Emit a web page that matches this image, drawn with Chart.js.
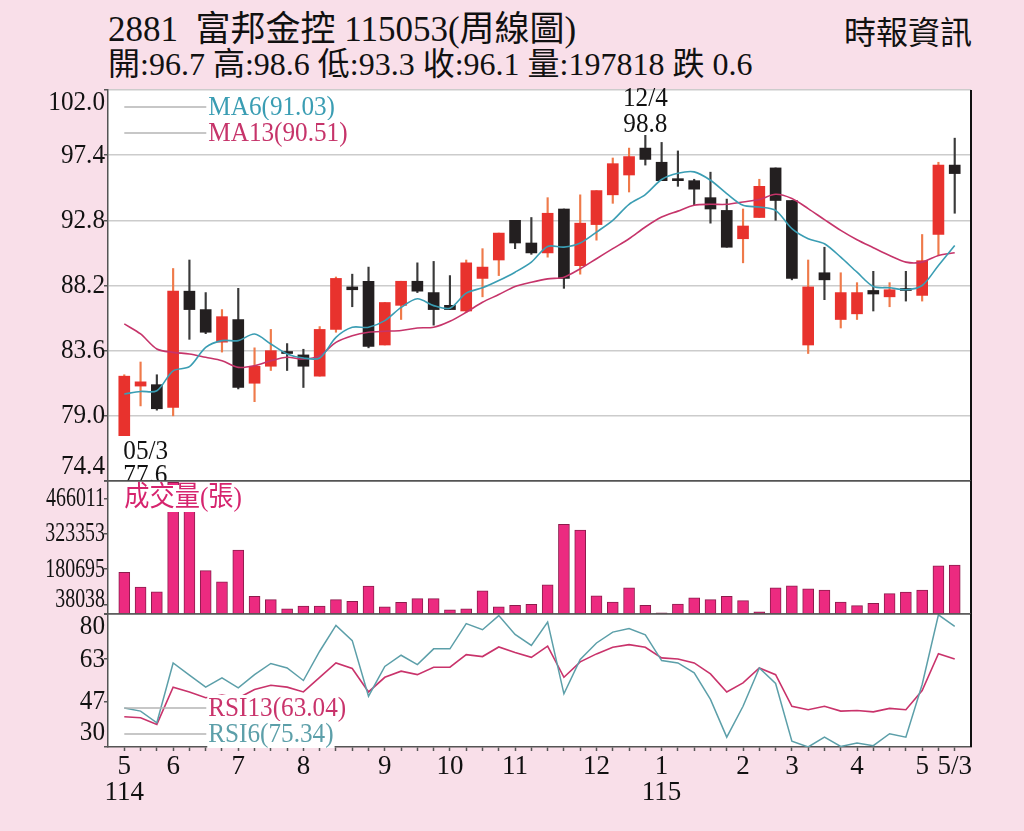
<!DOCTYPE html>
<html lang="zh-Hant">
<head>
<meta charset="utf-8">
<title>2881 富邦金控 周線圖</title>
<script src="https://cdn.jsdelivr.net/npm/chart.js"></script>
<style>
  html, body { margin: 0; padding: 0; background: #f9dfe9; }
  #wrap { position: relative; width: 1024px; height: 831px; background: #f9dfe9; overflow: hidden;
          font-family: "Liberation Serif", "Noto Sans CJK TC", serif; color: #111; }
  #wrap canvas { position: absolute; left: 0; top: 0; }
  .hd { position: absolute; line-height: 1; white-space: pre; }
  #title { left: 108px; top: 12px; font-size: 35px; }
  #quote { left: 108px; top: 48px; font-size: 32px; }
  #source { right: 52px; top: 17px; font-size: 32px; }
</style>
</head>
<body>
<div id="wrap">
  <div class="hd" id="title"></div>
  <div class="hd" id="quote"></div>
  <div class="hd" id="source"></div>
  <canvas id="priceChart" width="1024" height="831"></canvas>
  <canvas id="volChart" width="1024" height="831"></canvas>
  <canvas id="rsiChart" width="1024" height="831"></canvas>
</div>
<script>
const stockCode = "2881";
const stockName = "富邦金控";
const weekCode = "115053";
const sourceName = "時報資訊";

// weekly candles, 114/05 week 3 .. 115/05 week 3
const opens  = [77.6, 81.1, 81.2, 79.6, 87.8, 86.5, 84.2, 85.8, 81.3, 82.5,
                83.45, 83.3, 81.8, 85.1, 88.1, 88.5, 84.0, 86.8, 88.5, 87.7,
                86.8, 86.4, 88.7, 90.0, 92.8, 91.2, 90.5, 93.6, 89.6, 92.5,
                94.6, 96.0, 97.9, 96.9, 95.7, 95.6, 94.4, 93.5, 91.5, 93.0,
                96.5, 94.2, 84.0, 89.1, 85.8, 86.2, 87.85, 87.4, 87.9, 87.5,
                91.8, 96.7];
const highs  = [81.9, 82.8, 81.9, 89.4, 90.0, 87.7, 86.5, 88.0, 83.8, 85.1,
                84.1, 83.7, 85.3, 88.8, 89.0, 89.5, 87.0, 88.5, 89.8, 89.9,
                88.9, 90.0, 90.8, 91.9, 92.8, 93.0, 94.4, 93.6, 94.6, 94.9,
                97.2, 97.9, 98.8, 98.3, 97.7, 95.7, 96.2, 94.3, 93.6, 95.7,
                96.5, 94.2, 90.0, 90.9, 89.1, 88.4, 89.2, 88.4, 89.2, 91.8,
                96.9, 98.6];
const lows   = [77.6, 79.7, 79.4, 79.0, 84.4, 84.8, 83.5, 80.9, 80.0, 82.2,
                82.2, 81.0, 81.8, 84.9, 86.7, 83.8, 84.0, 85.8, 87.7, 85.4,
                86.5, 86.3, 87.4, 88.9, 90.8, 90.4, 90.2, 88.0, 89.0, 91.4,
                94.0, 94.8, 96.7, 95.6, 95.2, 93.9, 92.6, 90.9, 89.8, 93.0,
                92.8, 88.6, 83.4, 87.2, 85.2, 85.8, 86.4, 86.7, 87.1, 87.1,
                90.3, 93.3];
const closes = [81.8, 81.4, 79.5, 87.8, 86.5, 84.9, 86.0, 81.0, 82.5, 83.6,
                83.4, 82.5, 85.1, 88.7, 87.9, 83.9, 87.0, 88.5, 87.8, 86.5,
                86.5, 89.8, 89.5, 91.9, 91.2, 90.5, 93.3, 88.7, 92.6, 94.9,
                96.8, 97.3, 97.1, 95.6, 95.6, 95.0, 93.6, 90.9, 92.4, 95.2,
                94.2, 88.7, 88.1, 88.6, 87.7, 87.7, 87.6, 87.9, 87.85, 89.95,
                96.7, 96.1];
const volumes = [168000, 109000, 90000, 532000, 470000, 175000, 130000, 258000, 71000, 58000,
                 21000, 32000, 32000, 58000, 51000, 113000, 29000, 47000, 62000, 62000,
                 17000, 21000, 94000, 29000, 35000, 39000, 118000, 362000, 339000, 73000,
                 48000, 106000, 35000, 5000, 40000, 65000, 58000, 71000, 54000, 9000,
                 106000, 114000, 102000, 97000, 48000, 34000, 43000, 82000, 88000, 97000,
                 194000, 197818];
const ma6  = [80.54, 80.72, 80.77, 82.18, 82.47, 83.83, 84.31, 84.31, 84.78, 84.07,
              83.37, 83.08, 83.08, 84.54, 85.25, 85.25, 85.72, 86.65, 87.26, 86.78,
              86.6, 87.66, 88.04, 88.55, 89.14, 89.85, 90.96, 90.91, 91.2, 91.97,
              92.8, 93.93, 94.62, 95.68, 96.12, 96.22, 95.63, 94.69, 93.86, 93.74,
              93.5, 92.21, 91.5, 91.15, 90.2, 89.14, 88.13, 88.04, 87.9, 88.2,
              89.62, 91.03];
const ma13 = [85.49, 84.78, 83.72, 83.48, 83.37, 83.13, 82.89, 82.42, 82.54, 82.89,
              83.13, 83.01, 83.25, 84.19, 84.66, 84.9, 84.97, 85.02, 85.2, 85.25,
              85.67, 86.31, 87.02, 87.56, 88.13, 88.43, 88.67, 88.79, 89.38, 90.09,
              90.8, 91.5, 92.33, 93.03, 93.45, 93.86, 93.93, 93.93, 94.1, 94.27,
              94.64, 94.34, 93.63, 92.85, 92.09, 91.43, 90.87, 90.32, 89.85, 89.85,
              90.32, 90.51];
const rsi6  = [44.7, 43.5, 39.1, 61.6, 57.0, 52.5, 56.0, 52.2, 57.2, 61.4,
               59.7, 55.0, 66.0, 75.7, 70.0, 49.1, 60.3, 64.5, 61.0, 66.9,
               66.9, 76.4, 74.1, 79.4, 72.3, 68.2, 77.0, 50.0, 62.9, 69.1,
               73.2, 74.5, 72.2, 62.5, 61.6, 57.9, 47.9, 33.7, 45.3, 59.7,
               53.9, 32.2, 30.0, 33.7, 30.2, 31.5, 30.5, 35.0, 33.7, 53.5,
               79.7, 75.34];
const rsi13 = [41.4, 41.0, 38.5, 52.5, 50.7, 48.5, 49.5, 48.4, 51.6, 53.2,
               52.5, 50.7, 56.2, 61.6, 59.5, 50.7, 56.2, 58.5, 57.2, 60.0,
               60.0, 64.7, 64.0, 67.6, 65.5, 63.7, 67.9, 56.2, 62.0, 65.0,
               67.5, 68.5, 67.5, 63.5, 63.1, 61.6, 57.5, 50.7, 54.1, 59.7,
               57.2, 45.3, 44.0, 45.3, 43.5, 43.7, 43.2, 44.5, 44.0, 51.2,
               65.1, 63.04];

const priceTicks = [74.4, 79.0, 83.6, 88.2, 92.8, 97.4, 102.0];
const volumeTicks = [38038, 180695, 323353, 466011];
const rsiTicks = [30, 47, 63, 80];
const monthTickIdx  = [0, 3, 7, 11, 16, 20, 24, 29, 33, 38, 41, 45, 49, 51];
const monthTickText = ["5", "6", "7", "8", "9", "10", "11", "12", "1", "2", "3", "4", "5", "5/3"];
const yearTickIdx  = [0, 33];
const yearTickText = ["114", "115"];
const highNote = { idx: 32, date: "12/4" };
const lowNote  = { idx: 0, date: "05/3" };

// ---- header ----
const last = closes.length - 1;
const chg = closes[last] - closes[last - 1];
document.getElementById("title").textContent = `${stockCode}  ${stockName} ${weekCode}(周線圖)`;
document.getElementById("quote").textContent =
  `開:${opens[last].toFixed(1)} 高:${highs[last].toFixed(1)} 低:${lows[last].toFixed(1)} ` +
  `收:${closes[last].toFixed(1)} 量:${volumes[last]} ${chg < 0 ? "跌" : "漲"} ${Math.abs(chg).toFixed(1)}`;
document.getElementById("source").textContent = sourceName;

// ---- shared stuff ----
const FONT = '"Liberation Serif", "Noto Sans CJK TC", serif';
const TEXT = "#111";
const AXIS = "#555";
const GRID = "#cccccc";
const RED = "#e8322d", BLACK = "#231f20", RED_WICK = "#ef7a4a", BLACK_WICK = "#3a3a3a";
const MA6_COLOR = "#3a9db3", MA13_COLOR = "#c6346a";
const RSI6_COLOR = "#5c9fa9", RSI13_COLOR = "#c9336b";
const VOL_COLOR = "#ec2a80";
const LABEL_SIZE = 28;   // newspaper font is a narrow face, so squeeze it a bit
const SQUEEZE = 0.9;

Chart.defaults.font.family = FONT;
Chart.defaults.font.size = 26;
Chart.defaults.color = TEXT;

const N = closes.length;
const idx = closes.map((_, i) => i);
const isUp = i => i != null && closes[i] >= opens[i];

const xHidden = { type: "linear", min: -1, max: N, offset: false, display: false };

function yAxis(min, max, ticks, gridColor) {
  return {
    type: "linear", min: min, max: max, beginAtZero: false,
    afterFit: s => { s.width = 108; },
    afterBuildTicks: s => { s.ticks = ticks.map(v => ({ value: v })); },
    ticks: { display: false },
    grid: {
      drawOnChartArea: !!gridColor,
      color: gridColor || AXIS,
      lineWidth: 1.5,
      tickLength: 4,
      tickColor: AXIS,
      tickWidth: 1.5,
    },
    border: { display: true, color: AXIS, width: 1.5 },
  };
}

// text squeezed horizontally around its anchor point
function sqText(ctx, text, x, y, squeeze) {
  ctx.save();
  ctx.translate(x, y);
  ctx.scale(squeeze, 1);
  ctx.fillText(text, 0, 0);
  ctx.restore();
}

function drawYLabels(chart, values, fmt, squeeze) {
  const { ctx, chartArea: a } = chart;
  const s = chart.scales.y;
  ctx.save();
  ctx.font = LABEL_SIZE + "px " + FONT;
  ctx.fillStyle = TEXT;
  ctx.textAlign = "right";
  ctx.textBaseline = "middle";
  values.forEach(v => {
    let y = s.getPixelForValue(v);
    y = Math.min(Math.max(y, a.top + 13), a.bottom - 14);
    sqText(ctx, fmt(v), a.left - 3, y, squeeze);
  });
  ctx.restore();
}

function drawTag(ctx, text, x, y, color, line) {
  ctx.save();
  ctx.font = LABEL_SIZE + "px " + FONT;
  ctx.textBaseline = "middle";
  ctx.textAlign = "left";
  const w = ctx.measureText(text).width * SQUEEZE;
  if (line) {
    ctx.strokeStyle = "#b5b5b5";
    ctx.lineWidth = 1.5;
    ctx.beginPath();
    ctx.moveTo(x - 83, y);
    ctx.lineTo(x - 1, y);
    ctx.stroke();
  }
  ctx.fillStyle = "#fff";
  ctx.fillRect(x, y - 13, w + 2, 27);
  ctx.fillStyle = color;
  sqText(ctx, text, x + 1, y + 1, SQUEEZE);
  ctx.restore();
}

function hLine(ctx, x1, x2, y, color, w) {
  ctx.save();
  ctx.strokeStyle = color;
  ctx.lineWidth = w;
  ctx.beginPath();
  ctx.moveTo(x1, y);
  ctx.lineTo(x2, y);
  ctx.stroke();
  ctx.restore();
}

function rightEdge(chart) {
  const { ctx, chartArea: a } = chart;
  ctx.save();
  ctx.strokeStyle = "#111";
  ctx.lineWidth = 2;
  ctx.beginPath();
  ctx.moveTo(a.right, a.top);
  ctx.lineTo(a.right, a.bottom);
  ctx.stroke();
  ctx.restore();
}

const whitePanel = {
  id: "whitePanel",
  beforeDraw(chart) {
    const { ctx, chartArea: a } = chart;
    ctx.save();
    ctx.fillStyle = "#fff";
    ctx.fillRect(a.left, a.top, a.right - a.left, a.bottom - a.top);
    ctx.restore();
  },
};

const baseOptions = {
  responsive: false,
  animation: false,
  events: [],
  plugins: { legend: { display: false }, tooltip: { enabled: false } },
};

// ---- price panel ----
new Chart(document.getElementById("priceChart"), {
  type: "bar",
  data: {
    datasets: [
      {
        type: "line", label: "MA6",
        data: idx.map(i => ({ x: i, y: ma6[i] })),
        borderColor: MA6_COLOR, borderWidth: 1.6, pointRadius: 0, tension: 0.3, order: 0,
      },
      {
        type: "line", label: "MA13",
        data: idx.map(i => ({ x: i, y: ma13[i] })),
        borderColor: MA13_COLOR, borderWidth: 1.6, pointRadius: 0, tension: 0.3, order: 0,
      },
      {
        label: "body",
        data: idx.map(i => ({ x: i, y: [opens[i], closes[i]] })),
        backgroundColor: c => (isUp(c.dataIndex) ? RED : BLACK),
        barThickness: 11, minBarLength: 2, grouped: false, order: 1,
      },
      {
        label: "wick",
        data: idx.map(i => ({ x: i, y: [lows[i], highs[i]] })),
        backgroundColor: c => (isUp(c.dataIndex) ? RED_WICK : BLACK_WICK),
        barThickness: 1.5, grouped: false, order: 2,
      },
    ],
  },
  options: {
    ...baseOptions,
    layout: { padding: { top: 90, bottom: 350, left: 0, right: 53 } },
    scales: {
      x: xHidden,
      y: (() => {
        const y = yAxis(priceTicks[0], priceTicks[priceTicks.length - 1], priceTicks, GRID);
        y.grid.color = c => (c.tick && c.tick.value === priceTicks[0] ? AXIS : GRID);
        return y;
      })(),
    },
  },
  plugins: [whitePanel, {
    id: "priceDeco",
    afterDraw(chart) {
      const { ctx } = chart;
      const xs = chart.scales.x, ys = chart.scales.y;
      drawYLabels(chart, priceTicks, v => v.toFixed(1), SQUEEZE);
      const x0 = xs.getPixelForValue(0);
      drawTag(ctx, `MA6(${ma6[last].toFixed(2)})`, x0 + 83, 107, MA6_COLOR, true);
      drawTag(ctx, `MA13(${ma13[last].toFixed(2)})`, x0 + 83, 133, MA13_COLOR, true);

      ctx.save();
      ctx.font = LABEL_SIZE + "px " + FONT;
      ctx.fillStyle = TEXT;
      ctx.textBaseline = "alphabetic";
      ctx.textAlign = "center";
      const hx = xs.getPixelForValue(highNote.idx);
      const hy = ys.getPixelForValue(highs[highNote.idx]);
      sqText(ctx, highNote.date, hx, hy - 29, SQUEEZE);
      sqText(ctx, highs[highNote.idx].toFixed(1), hx, hy - 3, SQUEEZE);
      ctx.textAlign = "left";
      const lx = xs.getPixelForValue(lowNote.idx) - 1;
      const ly = ys.getPixelForValue(lows[lowNote.idx]);
      sqText(ctx, lowNote.date, lx, ly + 23, SQUEEZE);
      sqText(ctx, lows[lowNote.idx].toFixed(1), lx, ly + 47, SQUEEZE);
      ctx.restore();
      rightEdge(chart);
    },
  }],
});

// ---- volume panel ----
new Chart(document.getElementById("volChart"), {
  type: "bar",
  data: {
    datasets: [{
      label: "成交量",
      data: idx.map(i => ({ x: i, y: volumes[i] })),
      backgroundColor: VOL_COLOR, borderColor: "#8c1c4c", borderWidth: 1,
      barThickness: 11, grouped: false,
    }],
  },
  options: {
    ...baseOptions,
    layout: { padding: { top: 481, bottom: 217, left: 0, right: 53 } },
    scales: { x: xHidden, y: yAxis(0, 537000, volumeTicks, null) },
  },
  plugins: [whitePanel, {
    id: "volDeco",
    afterDraw(chart) {
      const { ctx, chartArea: a } = chart;
      drawYLabels(chart, volumeTicks, v => String(v), 0.71);
      drawTag(ctx, "成交量(張)", chart.scales.x.getPixelForValue(0) - 1, 498, "#d6246e", false);
      hLine(ctx, a.left - 4, a.right, a.top, AXIS, 1.5);
      hLine(ctx, a.left - 4, a.right, a.bottom, AXIS, 1.5);
      rightEdge(chart);
    },
  }],
});

// ---- RSI panel ----
function xLabel(v) {
  const m = monthTickIdx.indexOf(v);
  if (m < 0) return "";
  const yv = yearTickIdx.indexOf(v);
  return yv < 0 ? monthTickText[m] : [monthTickText[m], yearTickText[yv]];
}

new Chart(document.getElementById("rsiChart"), {
  type: "line",
  data: {
    datasets: [
      {
        label: "RSI6", data: idx.map(i => ({ x: i, y: rsi6[i] })),
        borderColor: RSI6_COLOR, borderWidth: 1.5, pointRadius: 0, tension: 0,
      },
      {
        label: "RSI13", data: idx.map(i => ({ x: i, y: rsi13[i] })),
        borderColor: RSI13_COLOR, borderWidth: 1.6, pointRadius: 0, tension: 0,
      },
    ],
  },
  options: {
    ...baseOptions,
    layout: { padding: { top: 614, bottom: 0, left: 0, right: 53 } },
    scales: {
      x: {
        type: "linear", min: -1, max: N, offset: false,
        afterFit: s => { s.height = 84; },
        afterBuildTicks: s => { s.ticks = idx.map(v => ({ value: v })); },
        ticks: {
          autoSkip: false, maxRotation: 0, minRotation: 0, padding: 3,
          color: TEXT, font: { size: 27, lineHeight: 0.97 },
          callback: v => xLabel(v),
        },
        grid: { drawOnChartArea: false, tickLength: 4, tickColor: AXIS, tickWidth: 1.5 },
        border: { display: true, color: AXIS, width: 1.5 },
      },
      y: yAxis(rsiTicks[0], rsiTicks[rsiTicks.length - 1], rsiTicks, null),
    },
  },
  plugins: [whitePanel, {
    id: "rsiDeco",
    afterDraw(chart) {
      const { ctx, chartArea: a } = chart;
      drawYLabels(chart, rsiTicks, v => String(v), SQUEEZE);
      const x0 = chart.scales.x.getPixelForValue(0);
      drawTag(ctx, `RSI13(${rsi13[last].toFixed(2)})`, x0 + 83, 708, RSI13_COLOR, true);
      drawTag(ctx, `RSI6(${rsi6[last].toFixed(2)})`, x0 + 83, 734, RSI6_COLOR, true);
      hLine(ctx, a.left - 4, a.right, a.top, AXIS, 1.5);
      rightEdge(chart);
    },
  }],
});
</script>
</body>
</html>
